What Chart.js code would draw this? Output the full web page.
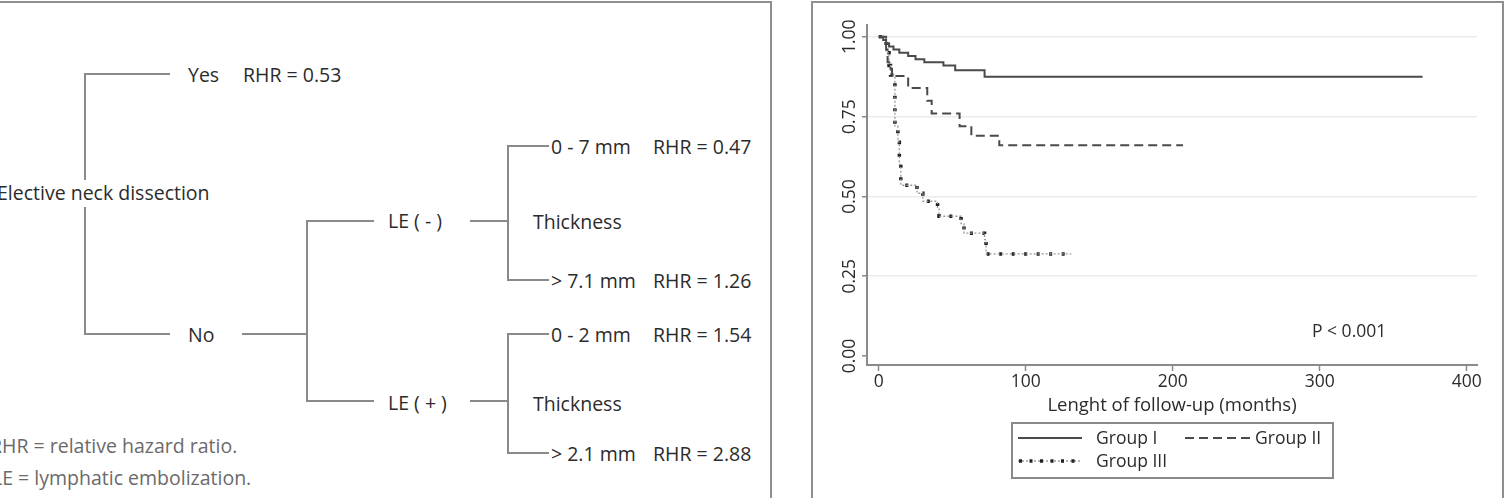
<!DOCTYPE html>
<html>
<head>
<meta charset="utf-8">
<script src="https://cdn.jsdelivr.net/npm/chart.js@4.4.1/dist/chart.umd.min.js"></script>
<style>
  html, body { margin:0; padding:0; background:#fff; }
  body { width:1507px; height:498px; position:relative; overflow:hidden; font-family:'Open Sans', sans-serif; }
  .panel { position:absolute; border:2px solid #8f8f8f; box-sizing:border-box; }
  .ln { position:absolute; background:#8a8a8a; }
  .tx { position:absolute; white-space:pre; color:#2b2b2b; font-size:19.5px; line-height:1; transform:translateY(-50%); }
  .note { color:#6a6a6a; }
  #kmWrap { position:absolute; left:812px; top:4px; width:690px; height:416px; }
  .lg { position:absolute; white-space:pre; color:#2b2b2b; font-size:17.5px; line-height:1; transform:translateY(-50%); }
</style>
</head>
<body>
<div class="panel" style="left:-10px; top:1px; width:782px; height:600px;"></div>
<div class="panel" style="left:811px; top:1px; width:693px; height:600px;"></div>
<div id="tree"></div>
<div id="kmWrap"><canvas id="km" width="690" height="416"></canvas></div>
<div id="legend"></div>
<script>
// ---------- Tree labels (left panel) ----------
const rootLabel = 'Elective neck dissection';
const firstSplit = ['Yes', 'No'];
const leSplit = ['LE ( - )', 'LE ( + )'];
const thicknessLabel = 'Thickness';
const thicknessCuts = ['0 - 7 mm', '> 7.1 mm', '0 - 2 mm', '> 2.1 mm'];
const rhrYes = 'RHR = 0.53';
const rhrLeaves = ['RHR = 0.47', 'RHR = 1.26', 'RHR = 1.54', 'RHR = 2.88'];
const footnotes = ['RHR = relative hazard ratio.', 'LE = lymphatic embolization.'];

// ---------- Kaplan-Meier data (right panel) ----------
const groupNames = ['Group I', 'Group II', 'Group III'];
const g1Months = [0, 3, 5, 7, 10, 14, 20, 25, 31, 44, 52, 72, 370];
const g1Surv   = [1.0, 0.99, 0.98, 0.97, 0.96, 0.95, 0.94, 0.93, 0.92, 0.91, 0.895, 0.875, 0.875];
const g2Months = [0, 5, 6, 8, 9, 20, 33, 36, 55, 63, 82, 207];
const g2Surv   = [1.0, 0.96, 0.92, 0.90, 0.877, 0.84, 0.80, 0.76, 0.72, 0.69, 0.66, 0.66];
const g3Months = [0, 5, 7, 8, 11, 13, 14, 15, 26, 30, 40, 41, 56, 58, 72, 73, 131];
const g3Surv   = [1.0, 0.95, 0.91, 0.88, 0.72, 0.67, 0.60, 0.535, 0.51, 0.485, 0.46, 0.438, 0.415, 0.385, 0.365, 0.32, 0.32];
const xTickValues = [0, 100, 200, 300, 400];
const yTickValues = [0, 0.25, 0.5, 0.75, 1.0];
const yTickLabels = ['0.00', '0.25', '0.50', '0.75', '1.00'];
const xTitle = 'Lenght of follow-up (months)';
const pValueText = 'P < 0.001';
const pValueAt = [320, 0.075];

// ---------- build tree ----------
const tree = document.getElementById('tree');
function hline(x1, x2, y) { const d = document.createElement('div'); d.className = 'ln'; d.style.cssText = `left:${x1}px;top:${y-1}px;width:${x2-x1}px;height:2px;`; tree.appendChild(d); }
function vline(x, y1, y2) { const d = document.createElement('div'); d.className = 'ln'; d.style.cssText = `left:${x-1}px;top:${y1-1}px;width:2px;height:${y2-y1+2}px;`; tree.appendChild(d); }
function label(t, x, y, cls) { const d = document.createElement('div'); d.className = 'tx' + (cls ? ' ' + cls : ''); d.textContent = t; d.style.left = x + 'px'; d.style.top = y + 'px'; tree.appendChild(d); }

vline(85, 74, 179); vline(85, 208, 334);
hline(85, 170, 74); hline(85, 170, 334);
label(rootLabel, -3, 193);
label(firstSplit[0], 188, 75); label(rhrYes, 243, 75);
label(firstSplit[1], 188, 335);
hline(242, 308, 334);
vline(307, 221, 401);
hline(307, 374, 221); hline(307, 374, 401);
label(leSplit[0], 388, 221); label(leSplit[1], 388, 403);
hline(470, 509, 221); hline(470, 509, 401);
vline(508, 146, 280); vline(508, 334, 453);
hline(508, 549, 146); hline(508, 549, 280); hline(508, 549, 334); hline(508, 549, 453);
label(thicknessLabel, 533, 222); label(thicknessLabel, 533, 404);
label(thicknessCuts[0], 551, 147); label(thicknessCuts[1], 551, 281);
label(thicknessCuts[2], 551, 335); label(thicknessCuts[3], 551, 454);
label(rhrLeaves[0], 653, 147); label(rhrLeaves[1], 653, 281);
label(rhrLeaves[2], 653, 335); label(rhrLeaves[3], 653, 454);
label(footnotes[0], -10, 446, 'note'); label(footnotes[1], -8, 478, 'note');

// ---------- legend ----------
const lg = document.getElementById('legend');
lg.innerHTML = `
<div class="panel" style="left:1011px;top:422px;width:323px;height:57px;border-color:#8a8a8a"></div>
<svg style="position:absolute;left:0;top:0;overflow:visible" width="1507" height="498">
  <line x1="1018" y1="438" x2="1082" y2="438" stroke="#4a4a4a" stroke-width="2"/>
  <line x1="1185" y1="438" x2="1253" y2="438" stroke="#4a4a4a" stroke-width="2" stroke-dasharray="9,5"/>
  <line x1="1018" y1="461" x2="1082" y2="461" stroke="#9a9a9a" stroke-width="1.3" stroke-dasharray="2,2"/>
  <line x1="1019" y1="461" x2="1082" y2="461" stroke="#222" stroke-width="3.5" stroke-dasharray="3,7.5"/>
</svg>`;
[[groupNames[0], 1096, 438], [groupNames[1], 1255, 438], [groupNames[2], 1096, 461]].forEach(([t, x, y]) => {
  const d = document.createElement('div'); d.className = 'lg'; d.textContent = t; d.style.left = x + 'px'; d.style.top = y + 'px'; lg.appendChild(d);
});

// ---------- chart ----------
Chart.defaults.font.family = "'Open Sans', sans-serif";
Chart.defaults.color = '#2b2b2b';
const toXY = (m, s) => m.map((v, i) => ({ x: v, y: s[i] }));

const yLabelPlugin = {
  id: 'yLabels',
  afterDraw(chart) {
    const ctx = chart.ctx, ys = chart.scales.y, xs = chart.scales.x;
    ctx.save();
    ctx.fillStyle = '#2b2b2b';
    ctx.font = "17.5px 'Open Sans'";
    ctx.textAlign = 'center';
    ctx.textBaseline = 'middle';
    yTickValues.forEach((v, i) => {
      ctx.save();
      ctx.translate(38, ys.getPixelForValue(v));
      ctx.rotate(-Math.PI / 2);
      ctx.fillText(yTickLabels[i], 0, 0);
      ctx.restore();
    });
    ctx.fillText(pValueText, xs.getPixelForValue(pValueAt[0]), ys.getPixelForValue(pValueAt[1]));
    ctx.restore();
  }
};

new Chart(document.getElementById('km'), {
  type: 'line',
  data: {
    datasets: [
      { label: groupNames[0], data: toXY(g1Months, g1Surv), stepped: true, borderColor: '#4a4a4a', borderWidth: 2, pointRadius: 0, fill: false },
      { label: groupNames[1], data: toXY(g2Months, g2Surv), stepped: true, borderColor: '#4a4a4a', borderWidth: 2, borderDash: [9, 5], pointRadius: 0, fill: false },
      { label: groupNames[2], data: toXY(g3Months, g3Surv), stepped: true, borderColor: '#9a9a9a', borderWidth: 1.3, borderDash: [2, 2], pointRadius: 0, fill: false },
      { label: groupNames[2] + ' markers', data: toXY(g3Months, g3Surv), stepped: true, borderColor: '#1e1e1e', borderWidth: 3.5, borderDash: [3, 9.5], borderCapStyle: 'butt', pointRadius: 0, fill: false }
    ]
  },
  options: {
    responsive: false,
    animation: false,
    devicePixelRatio: 1,
    layout: { padding: { top: 21, right: 25, left: 0, bottom: 0 } },
    plugins: { legend: { display: false }, tooltip: { enabled: false } },
    scales: {
      x: {
        type: 'linear', min: -8, max: 407,
        afterBuildTicks: (s) => { s.ticks = xTickValues.map(v => ({ value: v })); },
        afterFit: (s) => { s.height = 55; },
        ticks: { font: { size: 17.5 }, color: '#2b2b2b', padding: 1, maxRotation: 0 },
        grid: { drawOnChartArea: false, drawTicks: true, tickLength: 6, tickColor: '#8a8a8a', tickWidth: 1.5 },
        border: { display: true, color: '#8a8a8a', width: 2 },
        title: { display: true, text: xTitle, font: { size: 18.5 }, color: '#2b2b2b', padding: { top: 0, bottom: 3 } }
      },
      y: {
        type: 'linear', min: -0.028, max: 1.037,
        afterBuildTicks: (s) => { s.ticks = yTickValues.map(v => ({ value: v })); },
        afterFit: (s) => { s.width = 55; },
        ticks: { display: false },
        grid: { color: (c) => (c.tick && c.tick.value === 0) ? 'rgba(0,0,0,0)' : '#ebebeb', lineWidth: 1.5, drawTicks: true, tickLength: 5, tickColor: '#8a8a8a', tickWidth: 1.5 },
        border: { display: true, color: '#8a8a8a', width: 2 }
      }
    }
  },
  plugins: [yLabelPlugin]
});
</script>
</body>
</html>
